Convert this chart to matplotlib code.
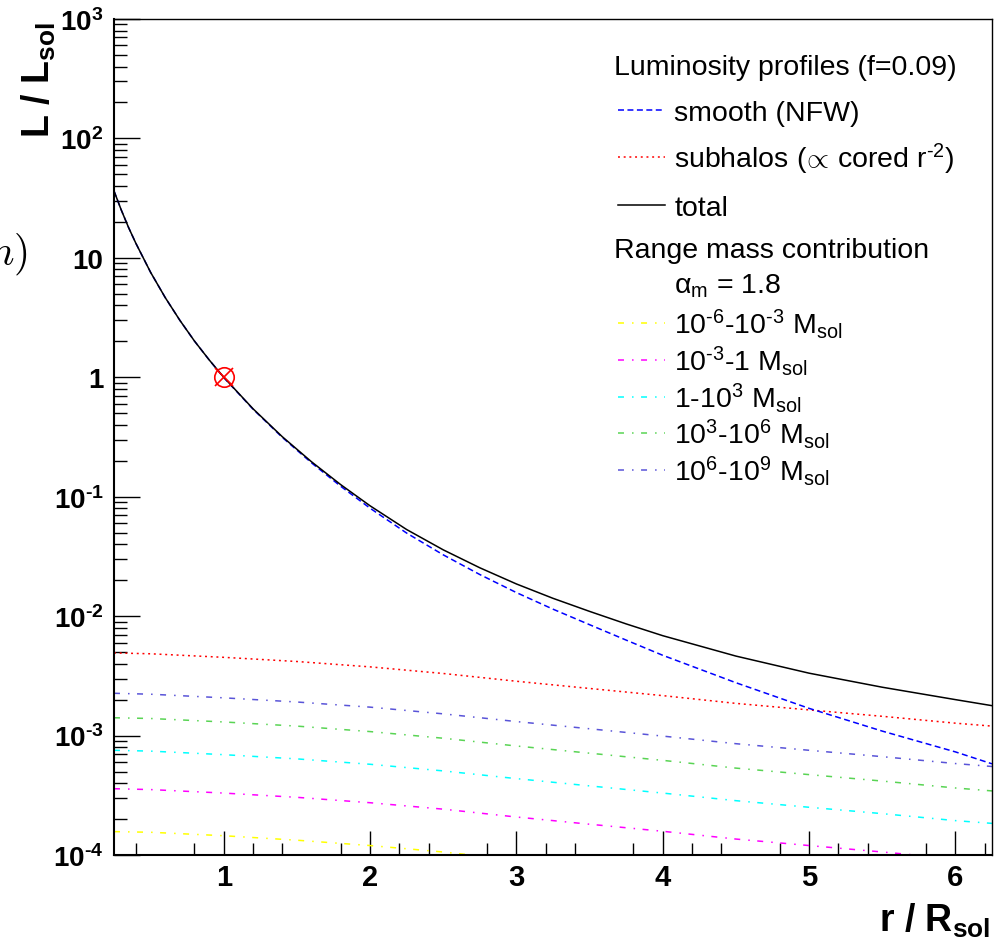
import matplotlib
matplotlib.use('Agg')
import matplotlib.pyplot as plt
from matplotlib.ticker import FixedLocator, FixedFormatter, NullFormatter

plt.rcParams['font.family'] = ['Liberation Sans', 'DejaVu Sans']
plt.rcParams['mathtext.fontset'] = 'custom'
plt.rcParams['mathtext.rm'] = 'Liberation Sans'
plt.rcParams['mathtext.it'] = 'Liberation Sans:italic'
plt.rcParams['mathtext.bf'] = 'Liberation Sans:bold'
plt.rcParams['mathtext.sf'] = 'Liberation Sans'
plt.rcParams['lines.scale_dashes'] = False

HY = '\u2010'  # short hyphen used in the exponents

# radius in units of R_sol, luminosity normalised to L_sol
r_prof = [0.25, 0.3, 0.35, 0.4, 0.5, 0.6, 0.7, 0.8, 0.9, 1.0, 1.2, 1.4, 1.6, 1.8,
          2.0, 2.25, 2.5, 2.75, 3.0, 3.25, 3.5, 3.75, 4.0, 4.5, 5.0, 5.5, 6.0, 6.25]
L_total = [36.3, 25.1, 17.9, 13.2, 7.57, 4.65, 3.00, 2.01, 1.40, 1.0, 0.545, 0.318,
           0.196, 0.126, 0.0839, 0.0531, 0.0359, 0.0254, 0.0186, 0.0141, 0.01096,
           0.00861, 0.00686, 0.00463, 0.00333, 0.00254, 0.00200, 0.00178]
L_smooth = [36.3, 25.1, 17.9, 13.2, 7.57, 4.65, 3.00, 2.01, 1.40, 0.9955, 0.541, 0.314,
            0.192, 0.1221, 0.0801, 0.0496, 0.0326, 0.0223, 0.01575, 0.01144, 0.00848,
            0.0063, 0.0047, 0.00277, 0.00169, 0.00109, 0.00073, 0.00058]

r_sub = [0.25, 0.5, 1.0, 1.5, 2.0, 2.5, 3.0, 3.5, 4.0, 4.5, 5.0, 5.5, 6.0, 6.25]
L_subhalos = [4.92e-3, 4.84e-3, 4.52e-3, 4.17e-3, 3.76e-3, 3.31e-3, 2.85e-3,
              2.48e-3, 2.16e-3, 1.86e-3, 1.64e-3, 1.45e-3, 1.27e-3, 1.20e-3]

# contribution of each subhalo mass decade
L_m6_m3 = [1.57e-4, 1.55e-4, 1.45e-4, 1.33e-4, 1.20e-4, 1.06e-4, 0.91e-4,
           0.79e-4, 0.69e-4, 0.60e-4, 0.53e-4, 0.46e-4, 0.41e-4, 0.38e-4]
L_m3_0 = [3.59e-4, 3.53e-4, 3.30e-4, 3.04e-4, 2.74e-4, 2.42e-4, 2.08e-4,
          1.81e-4, 1.58e-4, 1.36e-4, 1.20e-4, 1.06e-4, 0.93e-4, 0.88e-4]
L_0_3 = [7.53e-4, 7.41e-4, 6.92e-4, 6.38e-4, 5.75e-4, 5.06e-4, 4.36e-4,
         3.79e-4, 3.30e-4, 2.85e-4, 2.51e-4, 2.22e-4, 1.94e-4, 1.84e-4]
L_3_6 = [1.41e-3, 1.39e-3, 1.30e-3, 1.20e-3, 1.08e-3, 0.95e-3, 0.818e-3,
         0.712e-3, 0.62e-3, 0.534e-3, 0.471e-3, 0.416e-3, 0.364e-3, 0.344e-3]
L_6_9 = [2.26e-3, 2.22e-3, 2.07e-3, 1.91e-3, 1.73e-3, 1.52e-3, 1.31e-3,
         1.14e-3, 0.99e-3, 0.855e-3, 0.753e-3, 0.666e-3, 0.583e-3, 0.551e-3]

mass_series = [L_m6_m3, L_m3_0, L_0_3, L_3_6, L_6_9]
mass_labels = [rf'$10^{{{HY}6}}${HY}$10^{{{HY}3}}$ M$_{{\rm sol}}$',
               rf'$10^{{{HY}3}}${HY}1 M$_{{\rm sol}}$',
               rf'1{HY}$10^{{3}}$ M$_{{\rm sol}}$',
               rf'$10^{{3}}${HY}$10^{{6}}$ M$_{{\rm sol}}$',
               rf'$10^{{6}}${HY}$10^{{9}}$ M$_{{\rm sol}}$']
mass_colors = ['#ffff00', '#ff00ff', '#00ffff', '#59d454', '#5954d8']

sun_r = [1.0]
sun_L = [1.0]

y_ticks = [1e-4, 1e-3, 1e-2, 1e-1, 1, 10, 100, 1000]
y_ticklabels = [rf'$\mathbf{{10^{{{HY}4}}}}$', rf'$\mathbf{{10^{{{HY}3}}}}$',
                rf'$\mathbf{{10^{{{HY}2}}}}$', rf'$\mathbf{{10^{{{HY}1}}}}$', '1', '10',
                r'$\mathbf{10^{2}}$', r'$\mathbf{10^{3}}$']
x_ticks = [1, 2, 3, 4, 5, 6]

# line styles (dash patterns in points)
lw = 1.1
dash_smooth = (0, (4.3, 2.5))
dot_sub = (0, (1.4, 2.7))
dashdot = (0, (4.3, 5.8, 1.1, 5.4))

fig = plt.figure(figsize=(9.98, 9.45), dpi=100)
ax = fig.add_axes([114 / 998, 1 - 856 / 945, 878 / 998, 836 / 945])

for vals, col in zip(mass_series, mass_colors):
    ax.plot(r_sub, vals, color=col, lw=lw, linestyle=dashdot)
ax.plot(r_sub, L_subhalos, color='#ff0000', lw=lw, linestyle=dot_sub)
ax.plot(r_prof, L_smooth, color='#0000ff', lw=lw, linestyle=dash_smooth)
ax.plot(r_prof, L_total, color='black', lw=lw)

ax.plot(sun_r, sun_L, marker='o', ms=14, mfc='none', mec='#ff0000', mew=1.2, ls='none')
ax.plot(sun_r, sun_L, marker='x', ms=13, mec='#ff0000', mew=1.2, ls='none')

ax.set_yscale('log')
ax.set_xlim(0.25, 6.25)
ax.set_ylim(1e-4, 1e3)

ax.yaxis.set_major_locator(FixedLocator(y_ticks))
ax.yaxis.set_major_formatter(FixedFormatter(y_ticklabels))
ax.yaxis.set_minor_locator(FixedLocator([m * 10.0 ** e for e in range(-4, 3) for m in range(2, 10)]))
ax.yaxis.set_minor_formatter(NullFormatter())
ax.xaxis.set_major_locator(FixedLocator(x_ticks))
ax.xaxis.set_minor_locator(FixedLocator([0.4 + 0.2 * i for i in range(30) if (i + 2) % 5 != 3]))
ax.xaxis.set_minor_formatter(NullFormatter())

ax.tick_params(axis='both', which='both', direction='in', top=False, right=False, color='black')
ax.tick_params(axis='y', which='major', length=18.7, width=1.0, pad=7.5, labelsize=20)
ax.tick_params(axis='y', which='minor', length=9.4, width=1.0)
ax.tick_params(axis='x', which='major', length=17.3, width=1.0, pad=6, labelsize=21)
ax.tick_params(axis='x', which='minor', length=8.6, width=1.0)
for lab in ax.get_xticklabels() + ax.get_yticklabels():
    lab.set_fontweight('bold')

ax.spines['left'].set_linewidth(1.5)
ax.spines['bottom'].set_linewidth(1.5)
ax.spines['top'].set_linewidth(1.0)
ax.spines['right'].set_linewidth(1.0)

# axis titles
fig.text(990 / 998, 1 - 932 / 945, r'r / R$_{\mathbf{sol}}$', fontsize=27, fontweight='bold',
         ha='right', va='baseline')
fig.text(50 / 998, 1 - 22 / 945, r'L / L$_{\mathbf{sol}}$', fontsize=27, fontweight='bold',
         rotation=90, rotation_mode='anchor', ha='right', va='baseline')
fig.text(28 / 998, 1 - 265 / 945, r'$(m)$', fontsize=30, ha='right', va='baseline',
         math_fontfamily='cm')

# legend
x_head, x_l0, x_l1, x_txt = 0.5695, 0.574, 0.628, 0.638
base_off = 0.0118
leg_fs = 20.5


def legend_row(y, label, color=None, style=None):
    if color is not None:
        ax.plot([x_l0, x_l1], [y, y], transform=ax.transAxes, color=color, lw=lw,
                linestyle=style, clip_on=False)
    ax.text(x_txt, y - base_off, label, transform=ax.transAxes, fontsize=leg_fs, va='baseline')


ax.text(x_head, 0.946 - base_off, 'Luminosity profiles (f=0.09)', transform=ax.transAxes,
        fontsize=leg_fs, va='baseline')
legend_row(0.891, 'smooth (NFW)', '#0000ff', dash_smooth)
legend_row(0.835, rf'subhalos ($\!\propto\,$cored r$^{{{HY}2}}$)', '#ff0000', dot_sub)
legend_row(0.7775, 'total', 'black', '-')
ax.text(x_head, 0.727 - base_off, 'Range mass contribution', transform=ax.transAxes,
        fontsize=leg_fs, va='baseline')
legend_row(0.685, r'α$_{\rm m}$ = 1.8')
for y, lab, col in zip([0.636, 0.592, 0.548, 0.505, 0.4605], mass_labels, mass_colors):
    legend_row(y, lab, col, dashdot)

fig.savefig('out.png', dpi=100)
